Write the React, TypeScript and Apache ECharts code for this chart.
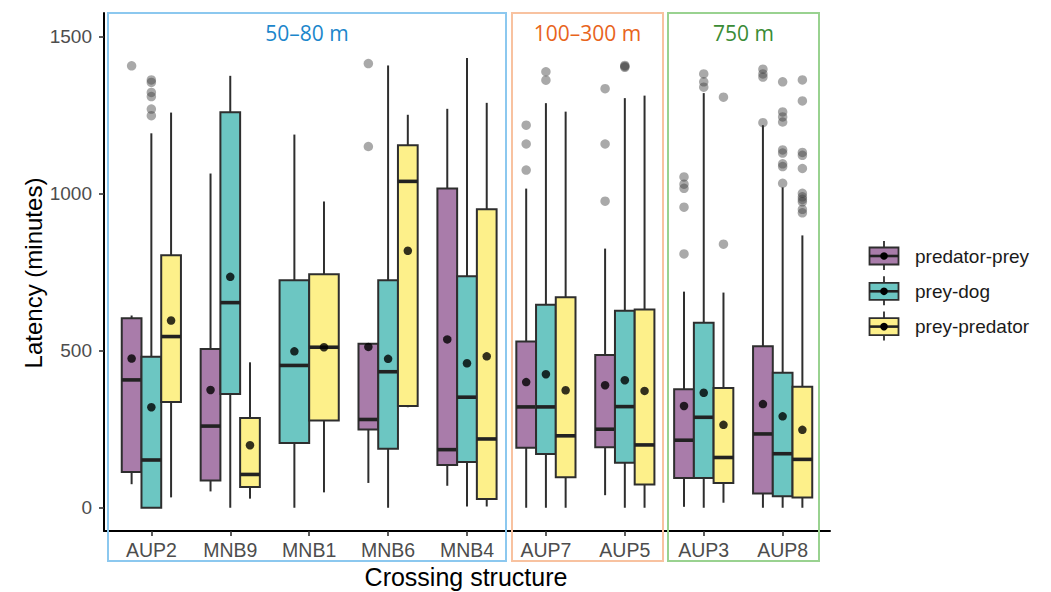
import React, { useEffect, useRef } from "react";
import * as echarts from "echarts";

const categories = ["AUP2", "MNB9", "MNB1", "MNB6", "MNB4", "AUP7", "AUP5", "AUP3", "AUP8"];
const groups = ["predator-prey", "prey-dog", "prey-predator"];
const groupColors = ["#A97CAA", "#6CC6C2", "#FDF08A"];
const yTicks = [0, 500, 1000, 1500];

// [lower whisker, Q1, median, Q3, upper whisker] per crossing structure
const predatorPreyBox = [
  [75, 114, 407, 603, 612],
  [52, 87, 260, 505, 1064],
  null,
  [79, 249, 281, 522, 522],
  [70, 136, 185, 1016, 1270],
  [0, 191, 321, 529, 1016],
  [40, 193, 250, 486, 825],
  [3, 95, 215, 377, 688],
  [0, 45, 235, 514, 1218],
];
const predatorPreyMean = [475, 375, null, 512, 536, 400, 390, 324, 330];
const predatorPreyOutliers = [
  [1407], [], [], [1414, 1150], [], [1218, 1158, 1075], [1334, 1158, 976],
  [1053, 1030, 1017, 957, 808], [1396, 1381, 1371, 1226],
];

const preyDogBox = [
  [0, 0, 152, 481, 1192],
  [0, 362, 653, 1259, 1375],
  [0, 206, 453, 724, 1188],
  [0, 188, 433, 724, 1408],
  [4, 146, 352, 737, 1432],
  [0, 171, 321, 646, 1288],
  [0, 143, 322, 627, 1304],
  [0, 95, 288, 589, 1320],
  [0, 37, 172, 430, 1020],
];
const preyDogMean = [320, 735, 498, 474, 460, 425, 406, 366, 291];
const preyDogOutliers = [
  [1362, 1354, 1322, 1309, 1269, 1248], [], [], [], [], [1388, 1361], [1408, 1405, 1402],
  [1381, 1356, 1339], [1356, 1260, 1244, 1228, 1139, 1129, 1095, 1086, 1033],
];

const preyPredatorBox = [
  [33, 337, 545, 804, 1258],
  [29, 66, 106, 286, 463],
  [49, 278, 511, 743, 975],
  [320, 324, 1039, 1154, 1251],
  [4, 28, 219, 950, 1289],
  [0, 97, 229, 670, 1261],
  [0, 74, 200, 631, 1312],
  [16, 79, 160, 381, 685],
  [0, 33, 154, 385, 867],
];
const preyPredatorMean = [596, 199, 511, 818, 482, 374, 372, 264, 248];
const preyPredatorOutliers = [
  [], [], [], [], [], [], [], [1307, 839],
  [1362, 1295, 1131, 1122, 1080, 1001, 990, 982, 974, 950, 939],
];

const boxes = [predatorPreyBox, preyDogBox, preyPredatorBox];
const means = [predatorPreyMean, preyDogMean, preyPredatorMean];
const outliers = [predatorPreyOutliers, preyDogOutliers, preyPredatorOutliers];

const distanceBands = [
  { label: "50–80 m", x0: 108, x1: 506, stroke: "#8CC8EF", text: "#1B86CB" },
  { label: "100–300 m", x0: 512, x1: 663, stroke: "#F8C2A0", text: "#E8641B" },
  { label: "750 m", x0: 668, x1: 819, stroke: "#99D290", text: "#3A8C35" },
];

const DODGE = 0.75;
function dodge(ci: number, gi: number) {
  const present = [0, 1, 2].filter((g) => boxes[g][ci] !== null);
  const n = present.length;
  const j = present.indexOf(gi);
  const w = DODGE / n;
  return { x: ci + 1 + (j - (n - 1) / 2) * w, w };
}

const FONT = "'Liberation Sans', Arial, sans-serif";
const LINE = "#2e2e2e";
const LW = 2;

export default function App() {
  const ref = useRef<HTMLDivElement>(null);
  useEffect(() => {
    if (!ref.current) return;
    const chart = echarts.init(ref.current, null, { renderer: "svg" });

    const series: any[] = [];
    groups.forEach((g, gi) => {
      const data: any[] = [];
      boxes[gi].forEach((b, ci) => {
        if (!b) return;
        const { x, w } = dodge(ci, gi);
        data.push([x, b[0], b[1], b[2], b[3], b[4], w]);
      });
      const color = groupColors[gi];
      series.push({
        name: g,
        type: "custom",
        data,
        encode: { x: 0, y: [1, 2, 3, 4, 5] },
        z: 2,
        renderItem: (params: any, api: any) => {
          const x = api.value(0), lo = api.value(1), q1 = api.value(2), md = api.value(3), q3 = api.value(4), hi = api.value(5), w = api.value(6);
          const [xl, yq3] = api.coord([x - w / 2, q3]);
          const [xr, yq1] = api.coord([x + w / 2, q1]);
          const [xc, ylo] = api.coord([x, lo]);
          const yhi = api.coord([x, hi])[1];
          const ymd = api.coord([x, md])[1];
          return {
            type: "group",
            children: [
              { type: "line", shape: { x1: xc, y1: yhi, x2: xc, y2: yq3 }, style: { stroke: LINE, lineWidth: LW } },
              { type: "line", shape: { x1: xc, y1: yq1, x2: xc, y2: ylo }, style: { stroke: LINE, lineWidth: LW } },
              { type: "rect", shape: { x: xl, y: yq3, width: xr - xl, height: yq1 - yq3 }, style: { fill: color, stroke: LINE, lineWidth: LW } },
              { type: "line", shape: { x1: xl, y1: ymd, x2: xr, y2: ymd }, style: { stroke: "#222", lineWidth: 3.6 } },
            ],
          };
        },
      });
    });
    groups.forEach((g, gi) => {
      const pts: number[][] = [];
      outliers[gi].forEach((arr, ci) => {
        if (!arr.length) return;
        const { x } = dodge(ci, gi);
        arr.forEach((v) => pts.push([x, v]));
      });
      series.push({
        name: g + " outliers",
        type: "scatter",
        data: pts,
        symbolSize: 9.5,
        z: 3,
        itemStyle: { color: "rgba(60,60,60,0.55)" },
      });
    });
    groups.forEach((g, gi) => {
      const pts: number[][] = [];
      means[gi].forEach((v, ci) => {
        if (v === null) return;
        const { x } = dodge(ci, gi);
        pts.push([x, v]);
      });
      series.push({
        name: g + " mean",
        type: "scatter",
        data: pts,
        symbolSize: 8.5,
        z: 4,
        itemStyle: { color: "#000" },
      });
    });

    const graphics: any[] = [];
    distanceBands.forEach((b) => {
      graphics.push({
        type: "rect",
        shape: { x: b.x0, y: 13, width: b.x1 - b.x0, height: 548 },
        style: { fill: "none", stroke: b.stroke, lineWidth: 2 },
        z: 1,
      });
      graphics.push({
        type: "text",
        x: (b.x0 + b.x1) / 2,
        y: 33,
        style: { text: b.label, font: "21px 'Open Sans', 'Noto Sans', sans-serif", fill: b.text, textAlign: "center", textVerticalAlign: "middle" },
        z: 5,
      });
    });
    graphics.push({
      type: "text",
      x: 466,
      y: 577,
      style: { text: "Crossing structure", font: `25px ${FONT}`, fill: "#000", textAlign: "center", textVerticalAlign: "middle" },
    });
    graphics.push({
      type: "text",
      x: 33,
      y: 273,
      rotation: Math.PI / 2,
      style: { text: "Latency (minutes)", font: `24px ${FONT}`, fill: "#000", textAlign: "center", textVerticalAlign: "middle" },
    });
    groups.forEach((g, gi) => {
      const yc = 256 + gi * 35.3;
      const xc = 884;
      graphics.push({ type: "line", shape: { x1: xc, y1: yc - 15, x2: xc, y2: yc + 14 }, style: { stroke: LINE, lineWidth: 1.8 } });
      graphics.push({ type: "rect", shape: { x: 869.5, y: yc - 8.5, width: 29, height: 17 }, style: { fill: groupColors[gi], stroke: LINE, lineWidth: 1.8 } });
      graphics.push({ type: "line", shape: { x1: 869.5, y1: yc, x2: 898.5, y2: yc }, style: { stroke: "#222", lineWidth: 2.6 } });
      graphics.push({ type: "circle", shape: { cx: xc, cy: yc, r: 3.8 }, style: { fill: "#000" } });
      graphics.push({
        type: "text",
        x: 915,
        y: yc,
        style: { text: g, font: `19px ${FONT}`, fill: "#1a1a1a", textAlign: "left", textVerticalAlign: "middle" },
      });
    });

    chart.setOption({
      animation: false,
      backgroundColor: "#fff",
      grid: { left: 104, top: 13, width: 726, height: 518 },
      xAxis: {
        type: "value",
        min: 0.4,
        max: 9.6,
        axisLine: { show: true, onZero: false, lineStyle: { color: "#000", width: 2 } },
        axisTick: { show: true, customValues: [1, 2, 3, 4, 5, 6, 7, 8, 9], length: 5, lineStyle: { color: "#333", width: 1.6 } },
        axisLabel: {
          customValues: [1, 2, 3, 4, 5, 6, 7, 8, 9],
          formatter: (v: number) => categories[Math.round(v) - 1] ?? "",
          color: "#4d4d4d",
          fontSize: 19.5,
          fontFamily: FONT,
          margin: 9,
        },
        splitLine: { show: false },
      },
      yAxis: {
        type: "value",
        min: -74,
        max: 1575,
        axisLine: { show: true, onZero: false, lineStyle: { color: "#000", width: 2 } },
        axisTick: { show: true, customValues: yTicks, length: 5, lineStyle: { color: "#333", width: 1.6 } },
        axisLabel: {
          customValues: yTicks,
          formatter: (v: number) => String(Math.round(v)),
          color: "#4d4d4d",
          fontSize: 19,
          fontFamily: FONT,
          margin: 12,
        },
        splitLine: { show: false },
      },
      graphic: graphics,
      series,
    });
    return () => chart.dispose();
  }, []);
  return <div ref={ref} style={{ position: "fixed", left: 0, top: 0, width: 1051, height: 592, background: "#fff" }} />;
}
